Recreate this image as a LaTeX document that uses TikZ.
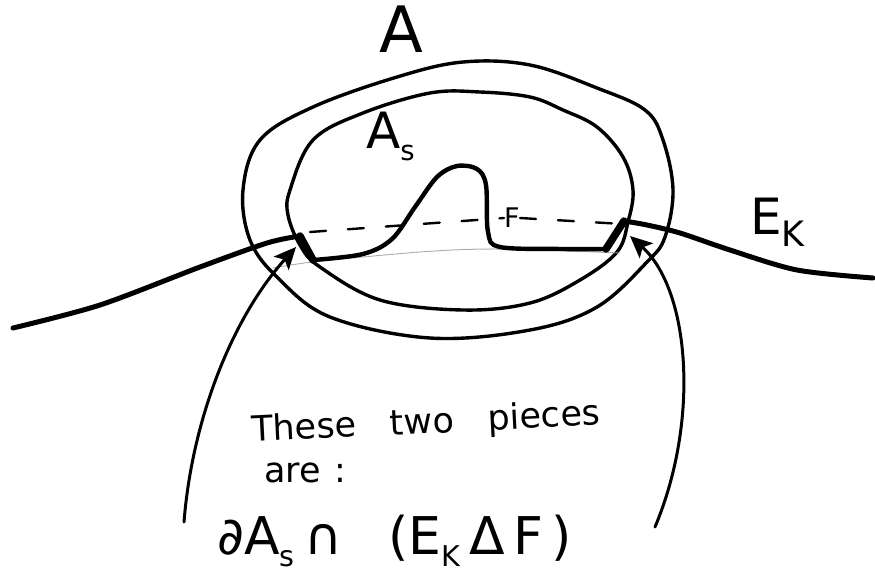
\documentclass[tikz,border=0pt]{standalone}
\usepackage{fontspec}
\setmainfont{DejaVu Sans}
\usetikzlibrary{arrows.meta,positioning}
\newcommand{\lowsub}[2][0.55]{\raisebox{-0.24em}{\scalebox{#1}{#2}}}

\begin{document}
\begin{tikzpicture}[
    x=1pt, y=-1pt,
    line cap=round, line join=round,
    every node/.style={inner sep=0pt},
    curve/.style={line width=3.4pt},
    edge/.style={line width=5pt},
    piece/.style={line width=7.5pt},
    guide/.style={line width=2.4pt, dash pattern=on 16pt off 22pt},
    faint/.style={line width=1pt, gray!70, densely dotted},
    pointer/.style={line width=3pt, -{Stealth[length=22pt,width=20pt,inset=5pt]}},
    note/.style={font=\fontsize{35}{35}\selectfont},
    sym/.style={font=\fontsize{50}{50}\selectfont}
  ]
  \useasboundingbox (0,0) rectangle (875,581);

  \node[font=\fontsize{64}{64}\selectfont] (A) at (401,29) {A};
  \node[sym, anchor=base west] (As) at (366,148) {A\lowsub{s}};
  \node[sym, anchor=base west] (Ek) at (750,234) {E\lowsub[0.7]{K}};
  \node[font=\fontsize{27}{27}\selectfont] (F) at (512,218) {F};
  \node[note, anchor=base west, rotate=2.8] (these) at (252,442) {These\hspace{34pt}two\hspace{34pt}pieces};
  \node[note, anchor=base west] (are) at (264,482) {are\hspace{14pt}:};
  \node[sym, font=\fontsize{52}{52}\selectfont, anchor=base west] (form) at (217,554)
    {∂A\lowsub{s}\hspace{10pt}∩\hspace{46pt}(E\lowsub{K}\,Δ\,F\,)};

  \coordinate (lp1) at (300,236);
  \coordinate (lp2) at (313,260);
  \coordinate (rp1) at (606,249);
  \coordinate (rp2) at (624,221);
  \coordinate (ltail) at (184,522);
  \coordinate (ltip) at (296,247);
  \coordinate (rtail) at (655,527);
  \coordinate (rtip) at (630,236);

  \draw[curve] plot[smooth cycle, tension=0.6] coordinates {
    (243,190) (260,140) (313,107) (397,77) (463,62) (530,65) (597,88)
    (645,110) (663,140) (673,190) (665,237) (647,262) (597,307) (530,330)
    (430,338) (330,317) (277,277) (250,240)};
  \draw[curve] plot[smooth cycle, tension=0.6] coordinates {
    (290,190) (313,140) (363,113) (430,93) (480,92) (530,97) (563,110)
    (597,127) (623,157) (633,190) (628,222) (617,252) (580,280) (530,303)
    (463,310) (380,300) (320,267) (300,245) (288,215)};

  \draw[faint] plot[smooth] coordinates {(273,268) (313,262) (420,252) (497,249) (620,253)};
  \draw[guide] (310,232) -- (F.west);
  \draw[guide] (F.east) -- (623,224);

  \draw[edge] plot[smooth] coordinates {(13,328) (100,305) (200,267) (267,243) (lp1)};
  \draw[edge] plot[smooth] coordinates {(rp2) (647,225) (680,233) (730,250) (797,270) (873,278)};
  \draw[edge, line width=4.4pt] plot[smooth, tension=0.55] coordinates {
    (lp2) (363,254) (392,239) (415,207) (437,177) (457,166) (477,169)
    (486,185) (488,232) (500,247) (563,249) (rp1)};
  \draw[piece] (lp1) -- (lp2);
  \draw[piece] (rp1) -- (rp2);

  \draw[pointer] (ltail) .. controls (192,420) and (232,318) .. (ltip);
  \draw[pointer] (rtail) .. controls (700,420) and (690,290) .. (rtip);
\end{tikzpicture}
\end{document}
